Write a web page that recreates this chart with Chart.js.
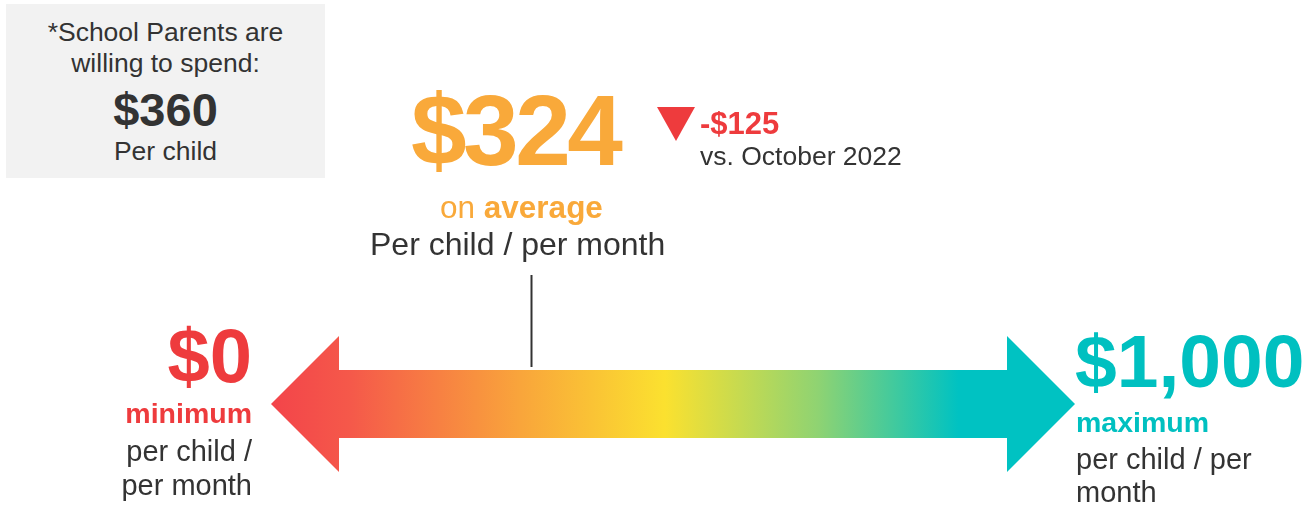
<!DOCTYPE html>
<html lang="en">
<head>
    <meta charset="UTF-8">
    <title>School Parents Spend Per Child</title>
    <script src="https://cdn.jsdelivr.net/npm/chart.js"></script>
    <style>
        * { margin: 0; padding: 0; box-sizing: border-box; }
        body { width: 1311px; height: 512px; background: #fff; font-family: 'Liberation Sans', Arial, sans-serif; color: #333; overflow: hidden; }
        .wrap { position: relative; width: 1311px; height: 512px; }
        canvas { position: absolute; left: 0; top: 0; }
        .txt { position: absolute; white-space: nowrap; line-height: 1; }
        .box { position: absolute; left: 6px; top: 4px; width: 319px; height: 174px; background: #f2f2f2; }
        .box .txt { left: 0; width: 319px; text-align: center; }
        .orange { color: #f9a93a; }
        .red { color: #ee3b3d; }
        .teal { color: #00c0c0; }
        .b { font-weight: bold; }
    </style>
</head>
<body>
<div class="wrap">
    <canvas id="rangeChart" width="1311" height="512"></canvas>

    <div class="box">
        <div class="txt" style="top:15px; font-size:26.5px;">*School Parents are</div>
        <div class="txt" style="top:46px; font-size:26.5px;">willing to spend:</div>
        <div class="txt b" id="willing" style="top:82px; font-size:47px;"></div>
        <div class="txt" style="top:134px; font-size:26.5px;">Per child</div>
    </div>

    <div class="txt orange b" id="avgLabel" style="left:411px; top:80px; font-size:100px; letter-spacing:-3.5px;"></div>
    <div class="txt orange" style="left:440px; top:192px; font-size:31.5px;">on <span class="b">average</span></div>
    <div class="txt" style="left:370px; top:228px; font-size:32px;">Per child / per month</div>

    <div class="txt red b" id="changeLabel" style="left:700px; top:108px; font-size:31px;"></div>
    <div class="txt" style="left:700px; top:143px; font-size:26.5px;">vs. October 2022</div>

    <div class="txt red b" id="minLabel" style="right:1059px; top:318px; font-size:76px; text-align:right;"></div>
    <div class="txt red b" style="right:1059px; top:399px; font-size:28.5px; text-align:right;">minimum</div>
    <div class="txt" style="right:1059px; top:434px; font-size:29px; line-height:34px; text-align:right;">per child /<br>per month</div>

    <div class="txt teal b" id="maxLabel" style="left:1075px; top:324px; font-size:75px;"></div>
    <div class="txt teal b" style="left:1076px; top:408px; font-size:28.5px;">maximum</div>
    <div class="txt" style="left:1076px; top:443px; font-size:29px; line-height:33px;">per child / per<br>month</div>
</div>

<script>
    // values
    const rangeLabels = ['minimum', 'maximum'];
    const rangeValues = [0, 1000];
    const averageValue = [324];
    const changeValue = [-125];
    const willingValue = [360];

    const fmt = v => (v < 0 ? '-' : '') + '$' + Math.abs(v).toLocaleString('en-US');

    document.getElementById('willing').textContent = fmt(willingValue[0]);
    document.getElementById('avgLabel').textContent = fmt(averageValue[0]);
    document.getElementById('changeLabel').textContent = fmt(changeValue[0]);
    document.getElementById('minLabel').textContent = fmt(rangeValues[0]);
    document.getElementById('maxLabel').textContent = fmt(rangeValues[1]);

    // draws the double arrow, the average tick and the down triangle from the x scale
    const arrowPlugin = {
        id: 'arrowPlugin',
        beforeDatasetsDraw(chart) {
            const ctx = chart.ctx;
            const x = chart.scales.x;
            const y = chart.scales.y;
            const x0 = x.getPixelForValue(rangeValues[0]);
            const x1 = x.getPixelForValue(rangeValues[1]);
            const cy = y.getPixelForValue(0);
            const head = 68, halfHead = 68, halfBody = 34;

            const grad = ctx.createLinearGradient(x0, 0, x1, 0);
            grad.addColorStop(0, '#f3444a');
            grad.addColorStop(0.1, '#f5594a');
            grad.addColorStop(0.31, '#f9a53b');
            grad.addColorStop(0.49, '#fbe12f');
            grad.addColorStop(0.68, '#8fd372');
            grad.addColorStop(0.855, '#00c2c2');
            grad.addColorStop(1, '#00c2c2');

            ctx.save();
            ctx.fillStyle = grad;
            ctx.beginPath();
            ctx.moveTo(x0, cy);
            ctx.lineTo(x0 + head, cy - halfHead);
            ctx.lineTo(x0 + head, cy - halfBody);
            ctx.lineTo(x1 - head, cy - halfBody);
            ctx.lineTo(x1 - head, cy - halfHead);
            ctx.lineTo(x1, cy);
            ctx.lineTo(x1 - head, cy + halfHead);
            ctx.lineTo(x1 - head, cy + halfBody);
            ctx.lineTo(x0 + head, cy + halfBody);
            ctx.lineTo(x0 + head, cy + halfHead);
            ctx.closePath();
            ctx.fill();

            // average marker
            const ax = Math.round(x.getPixelForValue(averageValue[0])) + 0.5;
            ctx.strokeStyle = '#333';
            ctx.lineWidth = 2;
            ctx.beginPath();
            ctx.moveTo(ax, 275);
            ctx.lineTo(ax, cy - halfBody - 3);
            ctx.stroke();

            // change indicator
            ctx.fillStyle = '#ee3b3d';
            ctx.beginPath();
            ctx.moveTo(657, 107);
            ctx.lineTo(695, 107);
            ctx.lineTo(676, 141);
            ctx.closePath();
            ctx.fill();
            ctx.restore();
        }
    };

    new Chart(document.getElementById('rangeChart'), {
        type: 'scatter',
        data: {
            labels: rangeLabels,
            datasets: [{
                data: rangeValues.map(v => ({ x: v, y: 0 })),
                pointRadius: 0
            }]
        },
        options: {
            responsive: false,
            animation: false,
            layout: { padding: { left: 271, right: 236, top: 268, bottom: 40 } },
            plugins: { legend: { display: false }, tooltip: { enabled: false } },
            scales: {
                x: { type: 'linear', min: rangeValues[0], max: rangeValues[1], display: false },
                y: { min: -1, max: 2, display: false }
            }
        },
        plugins: [arrowPlugin]
    });
</script>
</body>
</html>
